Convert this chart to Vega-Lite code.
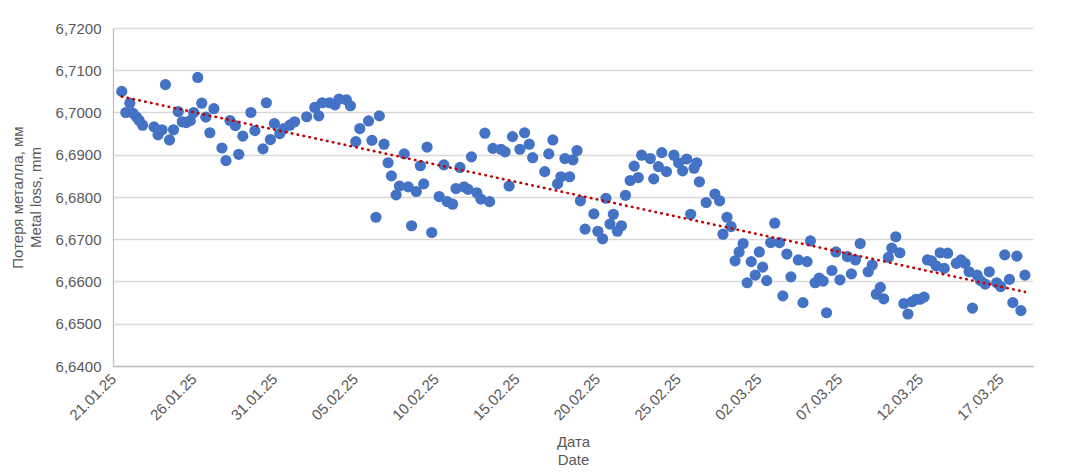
{
  "$schema": "https://vega.github.io/schema/vega-lite/v6.json",
  "width": 920,
  "height": 338,
  "autosize": {"type": "none"},
  "padding": {"left": 113, "top": 28, "right": 38, "bottom": 108},
  "background": "#ffffff",
  "data": {
    "format": {"parse": {"t": "date"}},
    "values": [
      {"t": "2025-01-21T13:00", "v": 6.7050},
      {"t": "2025-01-21T19:00", "v": 6.7000},
      {"t": "2025-01-22T01:00", "v": 6.7022},
      {"t": "2025-01-22T06:00", "v": 6.6998},
      {"t": "2025-01-22T11:00", "v": 6.6989},
      {"t": "2025-01-22T15:00", "v": 6.6981},
      {"t": "2025-01-22T20:00", "v": 6.6970},
      {"t": "2025-01-23T13:00", "v": 6.6966},
      {"t": "2025-01-23T19:00", "v": 6.6947},
      {"t": "2025-01-24T01:00", "v": 6.6959},
      {"t": "2025-01-24T06:00", "v": 6.7066},
      {"t": "2025-01-24T12:00", "v": 6.6935},
      {"t": "2025-01-24T18:00", "v": 6.6959},
      {"t": "2025-01-25T01:00", "v": 6.7002},
      {"t": "2025-01-25T07:00", "v": 6.6978},
      {"t": "2025-01-25T13:00", "v": 6.6976},
      {"t": "2025-01-25T19:00", "v": 6.6981},
      {"t": "2025-01-26T00:00", "v": 6.7000},
      {"t": "2025-01-26T06:00", "v": 6.7083},
      {"t": "2025-01-26T12:00", "v": 6.7022},
      {"t": "2025-01-26T18:00", "v": 6.6989},
      {"t": "2025-01-27T00:00", "v": 6.6952},
      {"t": "2025-01-27T06:00", "v": 6.7009},
      {"t": "2025-01-27T18:00", "v": 6.6916},
      {"t": "2025-01-28T00:00", "v": 6.6886},
      {"t": "2025-01-28T06:00", "v": 6.6981},
      {"t": "2025-01-28T14:00", "v": 6.6969},
      {"t": "2025-01-28T19:00", "v": 6.6901},
      {"t": "2025-01-29T01:00", "v": 6.6944},
      {"t": "2025-01-29T13:00", "v": 6.7000},
      {"t": "2025-01-29T19:00", "v": 6.6957},
      {"t": "2025-01-30T07:00", "v": 6.6914},
      {"t": "2025-01-30T12:00", "v": 6.7023},
      {"t": "2025-01-30T18:00", "v": 6.6936},
      {"t": "2025-01-31T00:00", "v": 6.6974},
      {"t": "2025-01-31T08:00", "v": 6.6950},
      {"t": "2025-01-31T14:00", "v": 6.6962},
      {"t": "2025-01-31T23:00", "v": 6.6970},
      {"t": "2025-02-01T06:00", "v": 6.6978},
      {"t": "2025-02-02T00:00", "v": 6.6990},
      {"t": "2025-02-02T12:00", "v": 6.7012},
      {"t": "2025-02-02T18:00", "v": 6.6992},
      {"t": "2025-02-02T23:00", "v": 6.7023},
      {"t": "2025-02-03T10:00", "v": 6.7023},
      {"t": "2025-02-03T18:00", "v": 6.7018},
      {"t": "2025-02-04T00:00", "v": 6.7032},
      {"t": "2025-02-04T11:00", "v": 6.7030},
      {"t": "2025-02-04T17:00", "v": 6.7016},
      {"t": "2025-02-05T01:00", "v": 6.6931},
      {"t": "2025-02-05T07:00", "v": 6.6962},
      {"t": "2025-02-05T20:00", "v": 6.6980},
      {"t": "2025-02-06T01:00", "v": 6.6934},
      {"t": "2025-02-06T07:00", "v": 6.6752},
      {"t": "2025-02-06T12:00", "v": 6.6992},
      {"t": "2025-02-06T19:00", "v": 6.6925},
      {"t": "2025-02-07T01:00", "v": 6.6881},
      {"t": "2025-02-07T06:00", "v": 6.6850},
      {"t": "2025-02-07T13:00", "v": 6.6805},
      {"t": "2025-02-07T18:00", "v": 6.6826},
      {"t": "2025-02-08T01:00", "v": 6.6902},
      {"t": "2025-02-08T07:00", "v": 6.6824},
      {"t": "2025-02-08T12:00", "v": 6.6732},
      {"t": "2025-02-08T19:00", "v": 6.6813},
      {"t": "2025-02-09T01:00", "v": 6.6874},
      {"t": "2025-02-09T06:00", "v": 6.6831},
      {"t": "2025-02-09T11:00", "v": 6.6918},
      {"t": "2025-02-09T18:00", "v": 6.6716},
      {"t": "2025-02-10T05:00", "v": 6.6801},
      {"t": "2025-02-10T12:00", "v": 6.6876},
      {"t": "2025-02-10T17:00", "v": 6.6789},
      {"t": "2025-02-11T01:00", "v": 6.6783},
      {"t": "2025-02-11T06:00", "v": 6.6820},
      {"t": "2025-02-11T12:00", "v": 6.6870},
      {"t": "2025-02-11T18:00", "v": 6.6824},
      {"t": "2025-02-12T00:00", "v": 6.6818},
      {"t": "2025-02-12T05:00", "v": 6.6895},
      {"t": "2025-02-12T13:00", "v": 6.6810},
      {"t": "2025-02-12T19:00", "v": 6.6795},
      {"t": "2025-02-13T01:00", "v": 6.6951},
      {"t": "2025-02-13T08:00", "v": 6.6789},
      {"t": "2025-02-13T13:00", "v": 6.6915},
      {"t": "2025-02-14T01:00", "v": 6.6913},
      {"t": "2025-02-14T07:00", "v": 6.6907},
      {"t": "2025-02-14T13:00", "v": 6.6826},
      {"t": "2025-02-14T18:00", "v": 6.6943},
      {"t": "2025-02-15T05:00", "v": 6.6913},
      {"t": "2025-02-15T12:00", "v": 6.6952},
      {"t": "2025-02-15T19:00", "v": 6.6925},
      {"t": "2025-02-16T00:00", "v": 6.6893},
      {"t": "2025-02-16T18:00", "v": 6.6860},
      {"t": "2025-02-17T00:00", "v": 6.6902},
      {"t": "2025-02-17T06:00", "v": 6.6935},
      {"t": "2025-02-17T13:00", "v": 6.6831},
      {"t": "2025-02-17T18:00", "v": 6.6848},
      {"t": "2025-02-18T00:00", "v": 6.6891},
      {"t": "2025-02-18T07:00", "v": 6.6848},
      {"t": "2025-02-18T12:00", "v": 6.6888},
      {"t": "2025-02-18T18:00", "v": 6.6910},
      {"t": "2025-02-18T23:00", "v": 6.6791},
      {"t": "2025-02-19T06:00", "v": 6.6724},
      {"t": "2025-02-19T19:00", "v": 6.6760},
      {"t": "2025-02-20T01:00", "v": 6.6719},
      {"t": "2025-02-20T08:00", "v": 6.6701},
      {"t": "2025-02-20T13:00", "v": 6.6797},
      {"t": "2025-02-20T19:00", "v": 6.6736},
      {"t": "2025-02-21T00:00", "v": 6.6759},
      {"t": "2025-02-21T06:00", "v": 6.6719},
      {"t": "2025-02-21T12:00", "v": 6.6732},
      {"t": "2025-02-21T18:00", "v": 6.6804},
      {"t": "2025-02-22T01:00", "v": 6.6839},
      {"t": "2025-02-22T07:00", "v": 6.6873},
      {"t": "2025-02-22T13:00", "v": 6.6846},
      {"t": "2025-02-22T18:00", "v": 6.6899},
      {"t": "2025-02-23T07:00", "v": 6.6891},
      {"t": "2025-02-23T12:00", "v": 6.6843},
      {"t": "2025-02-23T19:00", "v": 6.6872},
      {"t": "2025-02-24T00:00", "v": 6.6905},
      {"t": "2025-02-24T07:00", "v": 6.6860},
      {"t": "2025-02-24T18:00", "v": 6.6899},
      {"t": "2025-02-25T01:00", "v": 6.6881},
      {"t": "2025-02-25T07:00", "v": 6.6862},
      {"t": "2025-02-25T13:00", "v": 6.6890},
      {"t": "2025-02-25T19:00", "v": 6.6759},
      {"t": "2025-02-26T00:00", "v": 6.6868},
      {"t": "2025-02-26T04:00", "v": 6.6881},
      {"t": "2025-02-26T08:00", "v": 6.6836},
      {"t": "2025-02-26T18:00", "v": 6.6787},
      {"t": "2025-02-27T07:00", "v": 6.6807},
      {"t": "2025-02-27T14:00", "v": 6.6791},
      {"t": "2025-02-27T19:00", "v": 6.6712},
      {"t": "2025-02-28T01:00", "v": 6.6752},
      {"t": "2025-02-28T07:00", "v": 6.6730},
      {"t": "2025-02-28T13:00", "v": 6.6649},
      {"t": "2025-02-28T19:00", "v": 6.6670},
      {"t": "2025-03-01T01:00", "v": 6.6690},
      {"t": "2025-03-01T07:00", "v": 6.6597},
      {"t": "2025-03-01T13:00", "v": 6.6647},
      {"t": "2025-03-01T19:00", "v": 6.6615},
      {"t": "2025-03-02T01:00", "v": 6.6670},
      {"t": "2025-03-02T06:00", "v": 6.6634},
      {"t": "2025-03-02T12:00", "v": 6.6602},
      {"t": "2025-03-02T18:00", "v": 6.6692},
      {"t": "2025-03-03T00:00", "v": 6.6738},
      {"t": "2025-03-03T07:00", "v": 6.6692},
      {"t": "2025-03-03T12:00", "v": 6.6566},
      {"t": "2025-03-03T18:00", "v": 6.6665},
      {"t": "2025-03-04T00:00", "v": 6.6611},
      {"t": "2025-03-04T11:00", "v": 6.6651},
      {"t": "2025-03-04T18:00", "v": 6.6550},
      {"t": "2025-03-05T00:00", "v": 6.6647},
      {"t": "2025-03-05T05:00", "v": 6.6696},
      {"t": "2025-03-05T12:00", "v": 6.6597},
      {"t": "2025-03-05T18:00", "v": 6.6608},
      {"t": "2025-03-06T00:00", "v": 6.6601},
      {"t": "2025-03-06T05:00", "v": 6.6526},
      {"t": "2025-03-06T13:00", "v": 6.6626},
      {"t": "2025-03-06T19:00", "v": 6.6670},
      {"t": "2025-03-07T01:00", "v": 6.6604},
      {"t": "2025-03-07T12:00", "v": 6.6659},
      {"t": "2025-03-07T18:00", "v": 6.6618},
      {"t": "2025-03-08T00:00", "v": 6.6651},
      {"t": "2025-03-08T07:00", "v": 6.6690},
      {"t": "2025-03-08T19:00", "v": 6.6623},
      {"t": "2025-03-09T01:00", "v": 6.6639},
      {"t": "2025-03-09T07:00", "v": 6.6570},
      {"t": "2025-03-09T13:00", "v": 6.6586},
      {"t": "2025-03-09T18:00", "v": 6.6559},
      {"t": "2025-03-10T01:00", "v": 6.6657},
      {"t": "2025-03-10T06:00", "v": 6.6679},
      {"t": "2025-03-10T12:00", "v": 6.6706},
      {"t": "2025-03-10T18:00", "v": 6.6668},
      {"t": "2025-03-11T00:00", "v": 6.6548},
      {"t": "2025-03-11T06:00", "v": 6.6523},
      {"t": "2025-03-11T12:00", "v": 6.6552},
      {"t": "2025-03-11T18:00", "v": 6.6558},
      {"t": "2025-03-12T00:00", "v": 6.6558},
      {"t": "2025-03-12T06:00", "v": 6.6563},
      {"t": "2025-03-12T11:00", "v": 6.6651},
      {"t": "2025-03-12T17:00", "v": 6.6649},
      {"t": "2025-03-13T00:00", "v": 6.6637},
      {"t": "2025-03-13T06:00", "v": 6.6668},
      {"t": "2025-03-13T12:00", "v": 6.6631},
      {"t": "2025-03-13T17:00", "v": 6.6667},
      {"t": "2025-03-14T06:00", "v": 6.6643},
      {"t": "2025-03-14T13:00", "v": 6.6651},
      {"t": "2025-03-14T19:00", "v": 6.6643},
      {"t": "2025-03-15T01:00", "v": 6.6623},
      {"t": "2025-03-15T06:00", "v": 6.6537},
      {"t": "2025-03-15T13:00", "v": 6.6615},
      {"t": "2025-03-15T18:00", "v": 6.6602},
      {"t": "2025-03-16T01:00", "v": 6.6594},
      {"t": "2025-03-16T07:00", "v": 6.6623},
      {"t": "2025-03-16T18:00", "v": 6.6597},
      {"t": "2025-03-17T00:00", "v": 6.6588},
      {"t": "2025-03-17T06:00", "v": 6.6663},
      {"t": "2025-03-17T13:00", "v": 6.6605},
      {"t": "2025-03-17T18:00", "v": 6.6550},
      {"t": "2025-03-18T00:00", "v": 6.6660},
      {"t": "2025-03-18T06:00", "v": 6.6531},
      {"t": "2025-03-18T12:00", "v": 6.6615}
    ]
  },
  "encoding": {
    "x": {
      "field": "t",
      "type": "temporal",
      "scale": {
        "domain": [
          {"year": 2025, "month": 1, "date": 21},
          {"year": 2025, "month": 3, "date": 19}
        ]
      },
      "axis": {
        "title": ["Дата", "Date"],
        "format": "%d.%m.%y",
        "values": [
          {"year": 2025, "month": 1, "date": 21},
          {"year": 2025, "month": 1, "date": 26},
          {"year": 2025, "month": 1, "date": 31},
          {"year": 2025, "month": 2, "date": 5},
          {"year": 2025, "month": 2, "date": 10},
          {"year": 2025, "month": 2, "date": 15},
          {"year": 2025, "month": 2, "date": 20},
          {"year": 2025, "month": 2, "date": 25},
          {"year": 2025, "month": 3, "date": 2},
          {"year": 2025, "month": 3, "date": 7},
          {"year": 2025, "month": 3, "date": 12},
          {"year": 2025, "month": 3, "date": 17}
        ],
        "labelAngle": -45,
        "labelAlign": "right",
        "labelBaseline": "middle",
        "labelPadding": 10,
        "labelOverlap": false,
        "labelFlush": false,
        "ticks": false,
        "grid": false,
        "domainColor": "#bfbfbf",
        "titleY": 75,
        "titleX": 460,
        "titleAnchor": "middle",
        "titleBaseline": "middle",
        "titleLineHeight": 18
      }
    },
    "y": {
      "field": "v",
      "type": "quantitative",
      "scale": {"domain": [6.64, 6.72], "nice": false, "zero": false},
      "axis": {
        "title": ["Потеря металла, мм", "Metal loss, mm"],
        "values": [6.64, 6.65, 6.66, 6.67, 6.68, 6.69, 6.70, 6.71, 6.72],
        "labelExpr": "replace(format(datum.value, '.4f'), '.', ',')",
        "labelPadding": 12,
        "ticks": false,
        "gridColor": "#d9d9d9",
        "gridWidth": 1.3,
        "domainColor": "#bfbfbf",
        "titleX": -96,
        "titleY": 169,
        "titleAngle": -90,
        "titleAnchor": "middle",
        "titleAlign": "center",
        "titleBaseline": "middle",
        "titleLineHeight": 18
      }
    }
  },
  "layer": [
    {
      "mark": {"type": "circle", "size": 125, "color": "#4472c4", "opacity": 1}
    },
    {
      "transform": [{"regression": "v", "on": "t"}],
      "mark": {
        "type": "line",
        "color": "#c00000",
        "strokeWidth": 2.6,
        "strokeDash": [0.5, 5.5],
        "strokeCap": "round"
      }
    }
  ],
  "config": {
    "font": "Liberation Sans",
    "view": {"stroke": null},
    "axis": {
      "labelFont": "Liberation Sans",
      "labelFontSize": 15,
      "labelColor": "#595959",
      "titleFont": "Liberation Sans",
      "titleFontSize": 15,
      "titleFontWeight": "normal",
      "titleColor": "#595959",
      "domainWidth": 1.3
    }
  }
}
